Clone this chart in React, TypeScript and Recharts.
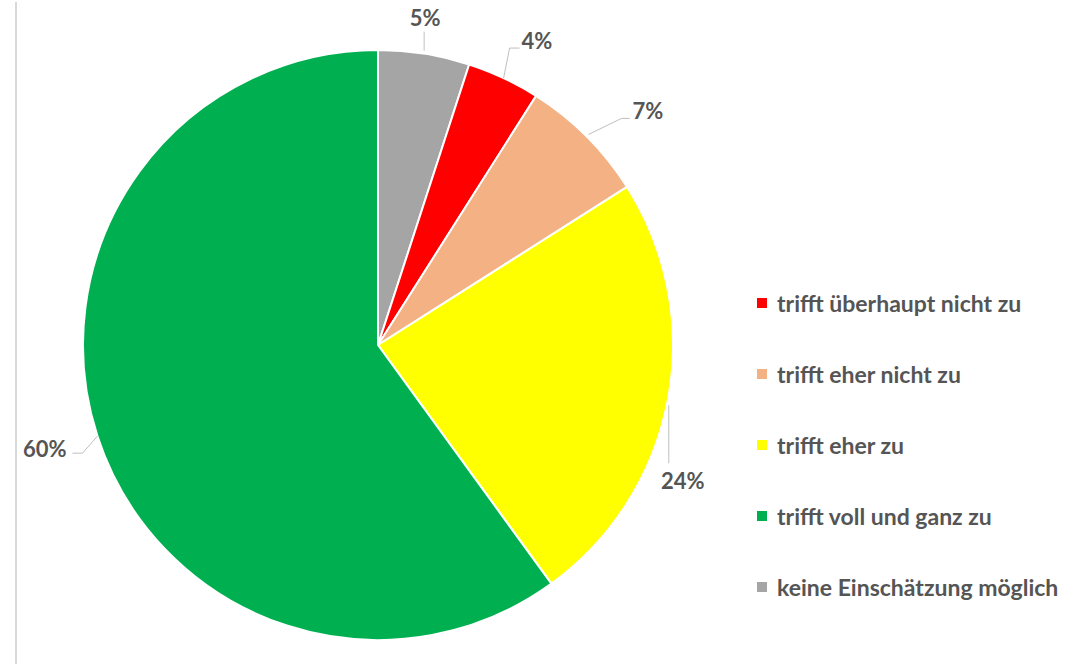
import { PieChart, Pie, Cell, Legend } from 'recharts';

const categories = [
  'keine Einschätzung möglich',
  'trifft überhaupt nicht zu',
  'trifft eher nicht zu',
  'trifft eher zu',
  'trifft voll und ganz zu',
];
const shares = [5, 4, 7, 24, 60];
const colors = ['#A5A5A5', '#FF0000', '#F4B183', '#FFFF00', '#00B050'];
const legendOrder = [
  'trifft überhaupt nicht zu',
  'trifft eher nicht zu',
  'trifft eher zu',
  'trifft voll und ganz zu',
  'keine Einschätzung möglich',
];

const data = categories.map((name, i) => ({ name, value: shares[i] }));

const TEXT = '#555555';
const LINE = '#BFBFBF';
const FONT = 'Lato, "Open Sans", sans-serif';

const RAD = Math.PI / 180;

// leader line shape per slice, Excel-like
const renderLabel = (props: any) => {
  const { cx, cy, midAngle, outerRadius, index, value } = props;
  const ex = cx + outerRadius * Math.cos(-midAngle * RAD);
  const ey = cy + outerRadius * Math.sin(-midAngle * RAD);
  const txt = `${value}%`;
  const common = { fill: TEXT, fontFamily: FONT, fontWeight: 700, fontSize: 22, dominantBaseline: 'central' as const };
  if (index === 0) {
    return (
      <g key="l0">
        <path d={`M${ex},${ey - 3} L${ex},${ey - 22}`} stroke={LINE} fill="none" />
        <text x={ex + 1} y={ey - 36} textAnchor="middle" {...common}>{txt}</text>
      </g>
    );
  }
  if (index === 1) {
    return (
      <g key="l1">
        <path d={`M${ex},${ey} L${ex + 6},${ey - 30} L${ex + 16},${ey - 30}`} stroke={LINE} fill="none" />
        <text x={ex + 18} y={ey - 38} textAnchor="start" {...common}>{txt}</text>
      </g>
    );
  }
  if (index === 2) {
    return (
      <g key="l2">
        <path d={`M${ex + 2},${ey - 2} L${ex + 35},${ey - 18} L${ex + 43},${ey - 18}`} stroke={LINE} fill="none" />
        <text x={ex + 46} y={ey - 26} textAnchor="start" {...common}>{txt}</text>
      </g>
    );
  }
  if (index === 3) {
    return (
      <g key="l3">
        <path d={`M${ex + 1},${ey + 5} L${ex + 1},${ey + 63}`} stroke={LINE} fill="none" />
        <text x={ex + 15} y={ey + 80} textAnchor="middle" {...common}>{txt}</text>
      </g>
    );
  }
  return (
    <g key="l4">
      <path d={`M${ex},${ey} L${ex - 15},${ey + 17} L${ex - 25},${ey + 17}`} stroke={LINE} fill="none" />
      <text x={ex - 31} y={ey + 12} textAnchor="end" {...common}>{txt}</text>
    </g>
  );
};

const LegendContent = () => (
  <div style={{ fontFamily: FONT, fontWeight: 700, fontSize: 23, color: TEXT }}>
    {legendOrder.map((name) => {
      const c = colors[categories.indexOf(name)];
      return (
        <div key={name} style={{ display: 'flex', alignItems: 'center', height: 71 }}>
          <span style={{ display: 'inline-block', width: 10, height: 10, background: c, marginRight: 10 }} />
          <span>{name}</span>
        </div>
      );
    })}
  </div>
);

const App = () => {
  return (
    <div style={{ position: 'absolute', left: 0, top: 0, width: 1077, height: 664, background: '#fff' }}>
      <div style={{ position: 'absolute', left: 15, top: 2, width: 2, height: 662, background: '#D9D9D9' }} />
      <PieChart width={1077} height={664} margin={{ top: 0, right: 0, bottom: 0, left: 0 }}>
        <Pie
          data={data}
          dataKey="value"
          nameKey="name"
          cx={378}
          cy={345}
          outerRadius={295}
          startAngle={90}
          endAngle={-270}
          stroke="#fff"
          strokeWidth={2}
          label={renderLabel}
          labelLine={false}
          isAnimationActive={false}
        >
          {data.map((d, i) => (
            <Cell key={d.name} fill={colors[i]} />
          ))}
        </Pie>
        <Legend
          content={<LegendContent />}
          wrapperStyle={{ position: 'absolute', left: 757, top: 267, width: 320 }}
        />
      </PieChart>
    </div>
  );
};

export default App;
